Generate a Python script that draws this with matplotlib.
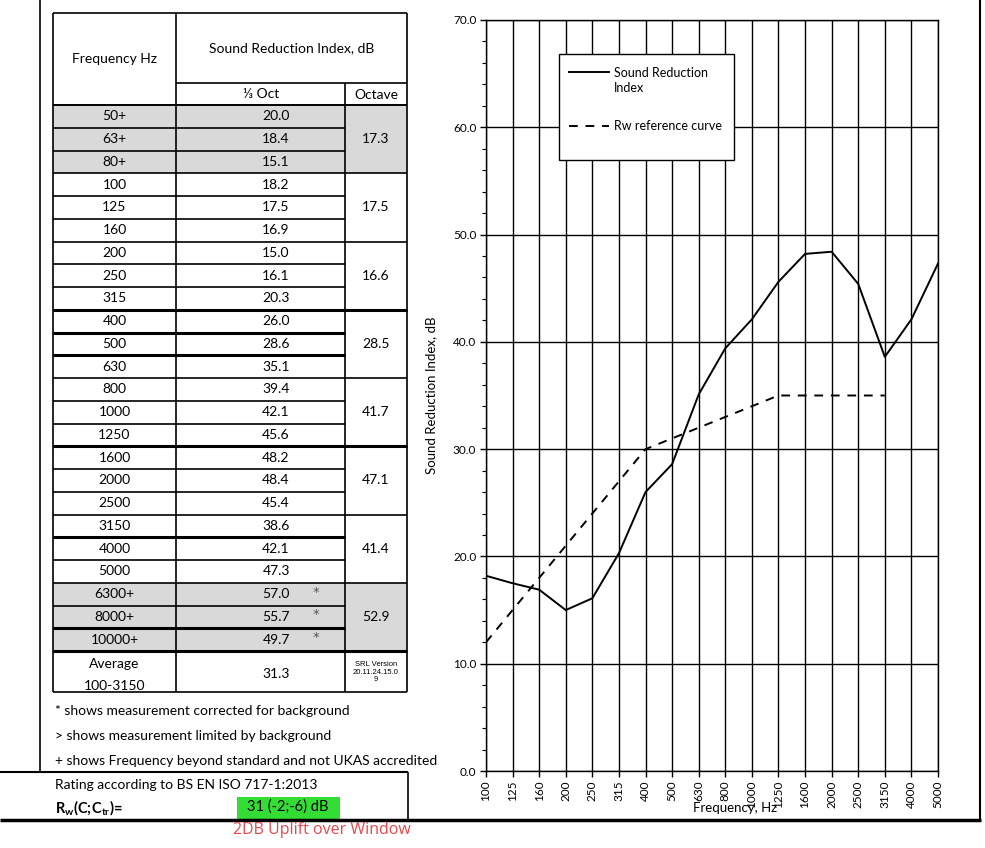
import matplotlib
matplotlib.use("Agg")
import matplotlib.pyplot as plt
from matplotlib.patches import Rectangle
from matplotlib.ticker import MultipleLocator, FormatStrFormatter

plt.rcParams['font.family'] = ['Lato', 'DejaVu Sans']
plt.rcParams['mathtext.fontset'] = 'custom'
plt.rcParams['mathtext.rm'] = 'Lato'
plt.rcParams['mathtext.bf'] = 'Lato:bold'

# --- data ---
table_freqs = ['50+', '63+', '80+', '100', '125', '160', '200', '250', '315', '400',
               '500', '630', '800', '1000', '1250', '1600', '2000', '2500', '3150',
               '4000', '5000', '6300+', '8000+', '10000+']
third_oct = [20.0, 18.4, 15.1, 18.2, 17.5, 16.9, 15.0, 16.1, 20.3, 26.0, 28.6, 35.1,
             39.4, 42.1, 45.6, 48.2, 48.4, 45.4, 38.6, 42.1, 47.3, 57.0, 55.7, 49.7]
octave = [17.3, 17.5, 16.6, 28.5, 41.7, 47.1, 41.4, 52.9]
flags = [''] * 21 + ['*', '*', '*']
shaded_rows = [0, 1, 2, 21, 22, 23]

chart_freqs = table_freqs[3:21]
sri = third_oct[3:21]
ref_curve = [12, 15, 18, 21, 24, 27, 30, 31, 32, 33, 34, 35, 35, 35, 35, 35]

average = 31.3
rating = '31 (-2;-6) dB'

# --- figure ---
fig = plt.figure(figsize=(9.85, 8.48), dpi=100)
bg = fig.add_axes([0, 0, 1, 1])
bg.set_xlim(0, 985)
bg.set_ylim(848, 0)
bg.axis('off')

def hline(y, x0, x1, lw=1.2):
    bg.plot([x0, x1], [y, y], color='black', lw=lw, solid_capstyle='butt')

def vline(x, y0, y1, lw=1.2):
    bg.plot([x, x], [y0, y1], color='black', lw=lw, solid_capstyle='butt')

# table geometry (pixels)
xl, xc1, xc2, xr = 53, 176, 345, 407
top, sub, rows_top, rh = 13, 83, 105, 22.75
avg_bot = 692

for i in shaded_rows:
    bg.add_patch(Rectangle((xl, rows_top + i * rh), xr - xl, rh,
                           facecolor='#d9d9d9', edgecolor='none'))

# header
hline(top, xl, xr)
hline(sub, xc1, xr)
hline(rows_top, xl, xr, 1.4)
vline(xl, top, avg_bot)
vline(xr, top, avg_bot)
vline(xc1, top, avg_bot)
vline(xc2, sub, avg_bot)
bg.text((xl + xc1) / 2, 59, 'Frequency Hz', ha='center', va='center', fontsize=10)
bg.text((xc1 + xr) / 2, 48, 'Sound Reduction Index, dB', ha='center', va='center', fontsize=10)
bg.text(261, 94, '⅓ Oct', ha='center', va='center', fontsize=10)
bg.text((xc2 + xr) / 2, 95, 'Octave', ha='center', va='center', fontsize=10)

thick_inner = {9, 10, 18, 22}
thick_full = {8, 14, 23}
for i, (f, v, fl) in enumerate(zip(table_freqs, third_oct, flags)):
    yc = rows_top + (i + 0.5) * rh
    bg.text((xl + xc1) / 2, yc, f, ha='center', va='center', fontsize=10)
    bg.text(276, yc, f'{v:.1f}', ha='center', va='center', fontsize=10)
    if fl:
        bg.text(316, yc - 2, fl, ha='center', va='center', fontsize=9.5,
                color='#555555', family=['DejaVu Sans'])
    yb = rows_top + (i + 1) * rh
    group_end = (i % 3 == 2)
    lw = 2.2 if (i in thick_inner or i in thick_full) else 1.2
    hline(yb, xl, xr if group_end else xc2, lw)

for g, o in enumerate(octave):
    yc = rows_top + (g * 3 + 1.5) * rh
    bg.text((xc2 + xr) / 2, yc, f'{o:.1f}', ha='center', va='center', fontsize=10)

# average row
hline(avg_bot, xl, xr)
bg.text((xl + xc1) / 2, 664, 'Average', ha='center', va='center', fontsize=10)
bg.text((xl + xc1) / 2, 686, '100-3150', ha='center', va='center', fontsize=10)
bg.text(276, 674, f'{average:.1f}', ha='center', va='center', fontsize=10)
bg.text((xc2 + xr) / 2, 672, 'SRL Version\n20.11.24.15.0\n9', ha='center', va='center',
        fontsize=5.5, family=['Liberation Sans'], linespacing=1.1)

# footnotes
notes = ['* shows measurement corrected for background',
         '> shows measurement limited by background',
         '+ shows Frequency beyond standard and not UKAS accredited']
for k, n in enumerate(notes):
    bg.text(55, 711 + k * 25, n, ha='left', va='center', fontsize=10)

# rating box and page borders
vline(40, 0, 771, 1.2)
hline(772, 0, 408, 1.5)
vline(408, 772, 820, 1.2)
hline(820, 0, 981, 2.5)
vline(980, 0, 821, 1.5)
bg.text(55, 785, 'Rating according to BS EN ISO 717-1:2013', ha='left', va='center', fontsize=10)
bg.text(55, 808, r'$\mathbf{R_w(C;\!C_{tr})\!=}$', ha='left', va='center', fontsize=10.5)
bg.add_patch(Rectangle((237, 797), 103, 22, facecolor='#33dd33', edgecolor='none'))
bg.text(288, 807, rating, ha='center', va='center', fontsize=10.5)
bg.text(322, 830, '2DB Uplift over Window', ha='center', va='center', fontsize=11.5,
        color='#e8474c', family=['Open Sans'])

# --- chart ---
ax = fig.add_axes([486 / 985, 1 - 771 / 848, (938 - 486) / 985, (771 - 20) / 848])
x = list(range(len(chart_freqs)))
ax.plot(x, sri, color='black', lw=1.4, label='Sound Reduction\nIndex')
ax.plot(x[:len(ref_curve)], ref_curve, color='black', lw=1.4, dashes=(4.5, 4),
        label='Rw reference curve')
ax.set_xlim(0, len(chart_freqs) - 1)
ax.set_ylim(0, 70)
ax.set_xticks(x)
ax.set_xticklabels(chart_freqs, rotation=90, fontsize=8.5)
ax.yaxis.set_major_locator(MultipleLocator(10))
ax.yaxis.set_minor_locator(MultipleLocator(2))
ax.yaxis.set_major_formatter(FormatStrFormatter('%.1f'))
ax.tick_params(axis='y', labelsize=8.5, length=4, width=1, pad=3)
ax.tick_params(axis='y', which='minor', length=3, width=0.8)
ax.tick_params(axis='x', length=4, width=1, pad=3)
ax.grid(True, which='major', color='black', lw=1)
for s in ax.spines.values():
    s.set_linewidth(1)
ax.set_xlabel('Frequency, Hz', fontsize=9.5)
ax.xaxis.set_label_coords((735 - 486) / 452, -0.041)
ax.set_ylabel('Sound Reduction Index, dB', fontsize=9.5)
ax.yaxis.set_label_coords(-0.107, 0.5)

# legend box drawn in axes coordinates
lx0, lx1, ly0, ly1 = 0.1615, 0.5487, 0.8136, 0.9547
ax.add_patch(Rectangle((lx0, ly0), lx1 - lx0, ly1 - ly0, transform=ax.transAxes,
                       facecolor='white', edgecolor='black', lw=1, zorder=5))
ax.plot([0.1836, 0.2721], [0.9308, 0.9308], transform=ax.transAxes, color='black',
        lw=1.4, zorder=6)
ax.plot([0.1836, 0.2721], [0.8589, 0.8589], transform=ax.transAxes, color='black',
        lw=1.4, dashes=(4.5, 4), zorder=6)
ax.text(0.2832, 0.9201, 'Sound Reduction\nIndex', transform=ax.transAxes, ha='left',
        va='center', fontsize=9, zorder=6, linespacing=1.3)
ax.text(0.2832, 0.8589, 'Rw reference curve', transform=ax.transAxes, ha='left',
        va='center', fontsize=9, zorder=6)

fig.savefig('out.png', dpi=100)
